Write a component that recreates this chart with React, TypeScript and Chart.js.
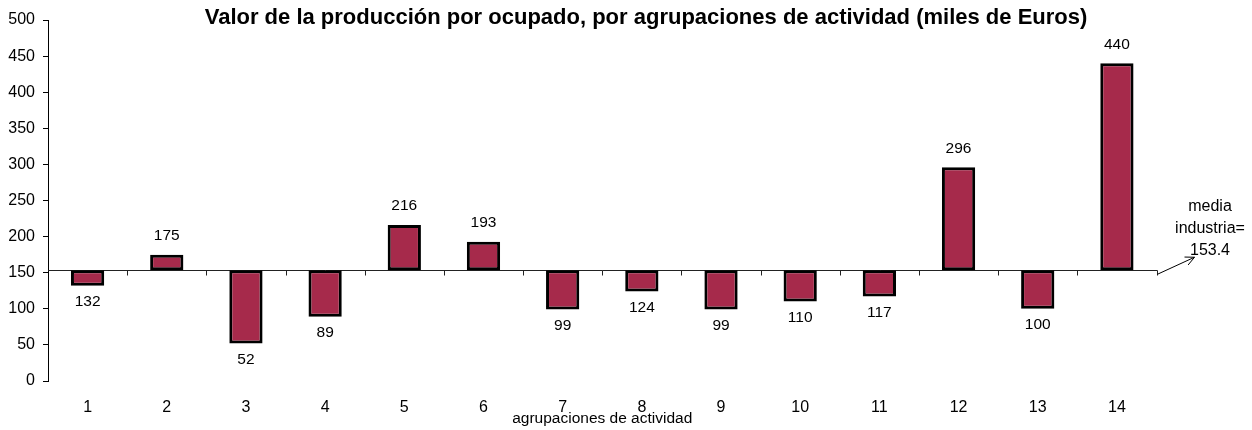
import React, { useEffect, useRef } from "react";
import { Chart, registerables } from "chart.js";

Chart.register(...registerables);

const categories = ["1", "2", "3", "4", "5", "6", "7", "8", "9", "10", "11", "12", "13", "14"];
const values = [132, 175, 52, 89, 216, 193, 99, 124, 99, 110, 117, 296, 100, 440];
const industryMean = 153.4;
const yTicksMax = 500;
const yTickStep = 50;
const titleText = "Valor de la producción por ocupado, por agrupaciones de actividad (miles de Euros)";
const xTitleText = "agrupaciones de actividad";
const meanLabelLines = ["media", "industria=", String(industryMean)];

const FONT = "'Liberation Sans', Arial, sans-serif";
const BAR_COLOR = "#A62A4B";

export default function App() {
  const ref = useRef<HTMLCanvasElement | null>(null);

  useEffect(() => {
    const canvas = ref.current;
    if (!canvas) return;

    const overlay = {
      id: "overlay",
      beforeDatasetsDraw(chart: any) {
        const ctx = chart.ctx;
        const xs = chart.scales.x;
        const ys = chart.scales.y;
        const area = chart.chartArea;
        const my = Math.round(ys.getPixelForValue(industryMean)) + 0.5;
        const step = xs.getPixelForValue(1) - xs.getPixelForValue(0);
        const lineEnd = area.right + 1;
        ctx.save();
        ctx.strokeStyle = "#222";
        ctx.lineWidth = 1;
        ctx.beginPath();
        ctx.moveTo(area.left, my);
        ctx.lineTo(lineEnd, my);
        for (let i = 0; i < categories.length; i++) {
          const bx = Math.round(xs.getPixelForValue(i) + step / 2) + 0.5;
          ctx.moveTo(bx, my);
          ctx.lineTo(bx, my + 5);
        }
        ctx.stroke();
        ctx.restore();
      },
      afterDatasetsDraw(chart: any) {
        const ctx = chart.ctx;
        const xs = chart.scales.x;
        const ys = chart.scales.y;
        const area = chart.chartArea;
        const my = ys.getPixelForValue(industryMean);
        ctx.save();
        // data labels
        ctx.fillStyle = "#000";
        ctx.font = `15.5px ${FONT}`;
        ctx.textAlign = "center";
        ctx.textBaseline = "middle";
        values.forEach((v, i) => {
          const x = xs.getPixelForValue(i);
          const y = ys.getPixelForValue(v);
          if (v >= industryMean) ctx.fillText(String(v), x, y - 19);
          else ctx.fillText(String(v), x, y + 16);
        });
        // title
        ctx.font = `bold 22px ${FONT}`;
        ctx.fillText(titleText, 646, 18);
        // mean annotation
        ctx.font = `16px ${FONT}`;
        const tx = 1210;
        meanLabelLines.forEach((t, k) => {
          ctx.fillText(t, tx, my - 63.5 + k * 21.7);
        });
        // arrow
        const x0 = area.right + 1;
        const y0 = my + 4;
        const x1 = area.right + 38;
        const y1 = my - 13;
        ctx.strokeStyle = "#000";
        ctx.lineWidth = 1;
        ctx.beginPath();
        ctx.moveTo(x0, y0);
        ctx.lineTo(x1, y1);
        const ang = Math.atan2(y1 - y0, x1 - x0);
        const hl = 10;
        ctx.moveTo(x1, y1);
        ctx.lineTo(x1 - hl * Math.cos(ang - 0.45), y1 - hl * Math.sin(ang - 0.45));
        ctx.moveTo(x1, y1);
        ctx.lineTo(x1 - hl * Math.cos(ang + 0.45), y1 - hl * Math.sin(ang + 0.45));
        ctx.stroke();
        ctx.restore();
      },
    };

    const chart = new Chart(canvas, {
      type: "bar",
      data: {
        labels: categories,
        datasets: [
          {
            data: values.map((v) => [industryMean, v]) as any,
            backgroundColor: BAR_COLOR,
            borderColor: "#000",
            borderWidth: 3,
            borderSkipped: false,
            barPercentage: 0.42,
            categoryPercentage: 1,
          },
        ],
      },
      options: {
        responsive: false,
        animation: false,
        devicePixelRatio: 1,
        layout: { padding: { left: 0, top: 20, right: 95.5, bottom: 0 } },
        plugins: { legend: { display: false }, tooltip: { enabled: false }, title: { display: false } },
        scales: {
          x: {
            offset: true,
            grid: { display: false, drawTicks: false },
            border: { display: false },
            ticks: { color: "#000", font: { family: FONT, size: 16 }, padding: 16.5, maxRotation: 0, autoSkip: false },
            title: {
              display: true,
              text: xTitleText,
              color: "#000",
              font: { family: FONT, size: 15.5 },
              padding: { top: 0, bottom: 2 },
            },
            afterFit(scale: any) {
              scale.height = 49;
            },
          },
          y: {
            min: 0,
            max: yTicksMax,
            ticks: { stepSize: yTickStep, color: "#000", font: { family: FONT, size: 16 }, padding: 8 },
            grid: { display: true, drawOnChartArea: false, drawTicks: true, tickLength: 5, color: "#000" },
            border: { display: true, color: "#000", width: 1 },
            afterFit(scale: any) {
              scale.width = 48;
            },
          },
        },
      },
      plugins: [overlay],
    });
    return () => chart.destroy();
  }, []);

  return (
    <div style={{ position: "fixed", left: 0, top: 0, width: 1252, height: 430, background: "#fff" }}>
      <canvas ref={ref} width={1252} height={430} style={{ display: "block" }} />
    </div>
  );
}
